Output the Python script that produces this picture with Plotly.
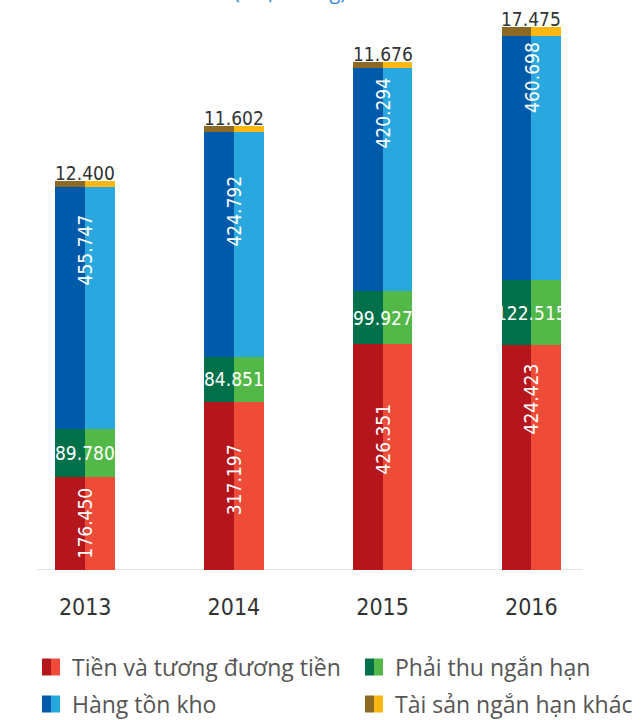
import plotly.graph_objects as go

# ---- data ----
years = ["2013", "2014", "2015", "2016"]
tien = [176450, 317197, 426351, 424423]          # Tiền và tương đương tiền
phai_thu = [89780, 84851, 99927, 122515]         # Phải thu ngắn hạn
hang_ton = [455747, 424792, 420294, 460698]      # Hàng tồn kho
khac = [12400, 11602, 11676, 17475]              # Tài sản ngắn hạn khác

series_names = ["Tiền và tương đương tiền", "Phải thu ngắn hạn",
                "Hàng tồn kho", "Tài sản ngắn hạn khác"]
series_values = [tien, phai_thu, hang_ton, khac]

# ---- style ----
dark_colors = ["#b5161c", "#00704a", "#005aa9", "#8d6a24"]
light_colors = ["#ee4c38", "#52b848", "#29a8e0", "#fbb813"]
# where the value label sits inside a segment (fraction of its height from bottom)
label_frac = [
    [0.50, 0.54, 0.58, 0.76],
    [0.50, 0.50, 0.50, 0.50],
    [0.74, 0.65, 0.80, 0.83],
    None,
]
label_rot = [-90, 0, -90, None]

NUM_FONT = "DejaVu Sans Condensed"
TXT_FONT = "Open Sans, Noto Sans, DejaVu Sans"
HALF = 0.2


def fmt(v):
    return f"{v:,}".replace(",", ".")


fig = go.Figure()
idx = list(range(len(years)))
for s, vals in enumerate(series_values):
    fig.add_trace(go.Bar(x=[i - HALF / 2 for i in idx], y=vals, width=HALF,
                         marker=dict(color=dark_colors[s], line=dict(width=0)),
                         showlegend=False, hoverinfo="skip"))
    fig.add_trace(go.Bar(x=[i + HALF / 2 for i in idx], y=vals, width=HALF,
                         marker=dict(color=light_colors[s], line=dict(width=0)),
                         showlegend=False, hoverinfo="skip"))

annotations = []
base = [0] * len(years)
for s, vals in enumerate(series_values):
    for i, v in enumerate(vals):
        if label_frac[s] is not None:
            annotations.append(dict(
                x=i, y=base[i] + v * label_frac[s][i], xref="x", yref="y",
                text=fmt(v), showarrow=False, textangle=label_rot[s],
                font=dict(family=NUM_FONT, size=19, color="white")))
        else:
            annotations.append(dict(
                x=i, y=base[i] + v, xref="x", yref="y", yanchor="bottom",
                yshift=-5, text=fmt(v), showarrow=False,
                font=dict(family=NUM_FONT, size=19, color="#333333")))
    base = [b + v for b, v in zip(base, vals)]

# title (partially cut at top in the reference)
annotations.append(dict(x=290 / 643, y=(570 - 7) / 550, xref="paper", yref="paper",
                        xanchor="center", yanchor="bottom", showarrow=False,
                        text="(Triệu đồng)",
                        font=dict(family=TXT_FONT, size=20, color="#3a8ad6")))

# manual two-tone legend
shapes = []
legend_pos = [(42, 667), (365, 667), (42, 704), (365, 704)]
for s, (px, py) in enumerate(legend_pos):
    for k, col in enumerate([dark_colors[s], light_colors[s]]):
        shapes.append(dict(type="rect", xref="paper", yref="paper",
                           x0=(px + 9 * k) / 643, x1=(px + 9 * (k + 1)) / 643,
                           y0=(570 - py - 8.5) / 550, y1=(570 - py + 8.5) / 550,
                           fillcolor=col, line=dict(width=0)))
    annotations.append(dict(x=(px + 28) / 643, y=(570 - py) / 550,
                            xref="paper", yref="paper", xanchor="left",
                            yanchor="middle", showarrow=False,
                            text=series_names[s],
                            font=dict(family=TXT_FONT, size=23, color="#555555")))

# baseline
shapes.append(dict(type="line", xref="x", yref="y", x0=-0.33, x1=3.34, y0=0, y1=0,
                   line=dict(color="#e3e3e3", width=2), layer="below"))

fig.update_layout(
    width=643, height=720,
    margin=dict(l=0, r=0, t=20, b=150),
    barmode="stack", bargap=0,
    plot_bgcolor="white", paper_bgcolor="white",
    xaxis=dict(range=[-0.573, 3.751], tickvals=idx, ticktext=years,
               showgrid=False, zeroline=False, showline=False,
               ticks="outside", ticklen=16, tickcolor="rgba(0,0,0,0)",
               tickfont=dict(family=NUM_FONT, size=23, color="#333333")),
    yaxis=dict(range=[0, 1038000], visible=False),
    annotations=annotations, shapes=shapes,
)

fig.write_html("out.html", config={"displayModeBar": False},
               post_script="document.body.style.margin='0';"
                           "document.body.style.padding='0';")
